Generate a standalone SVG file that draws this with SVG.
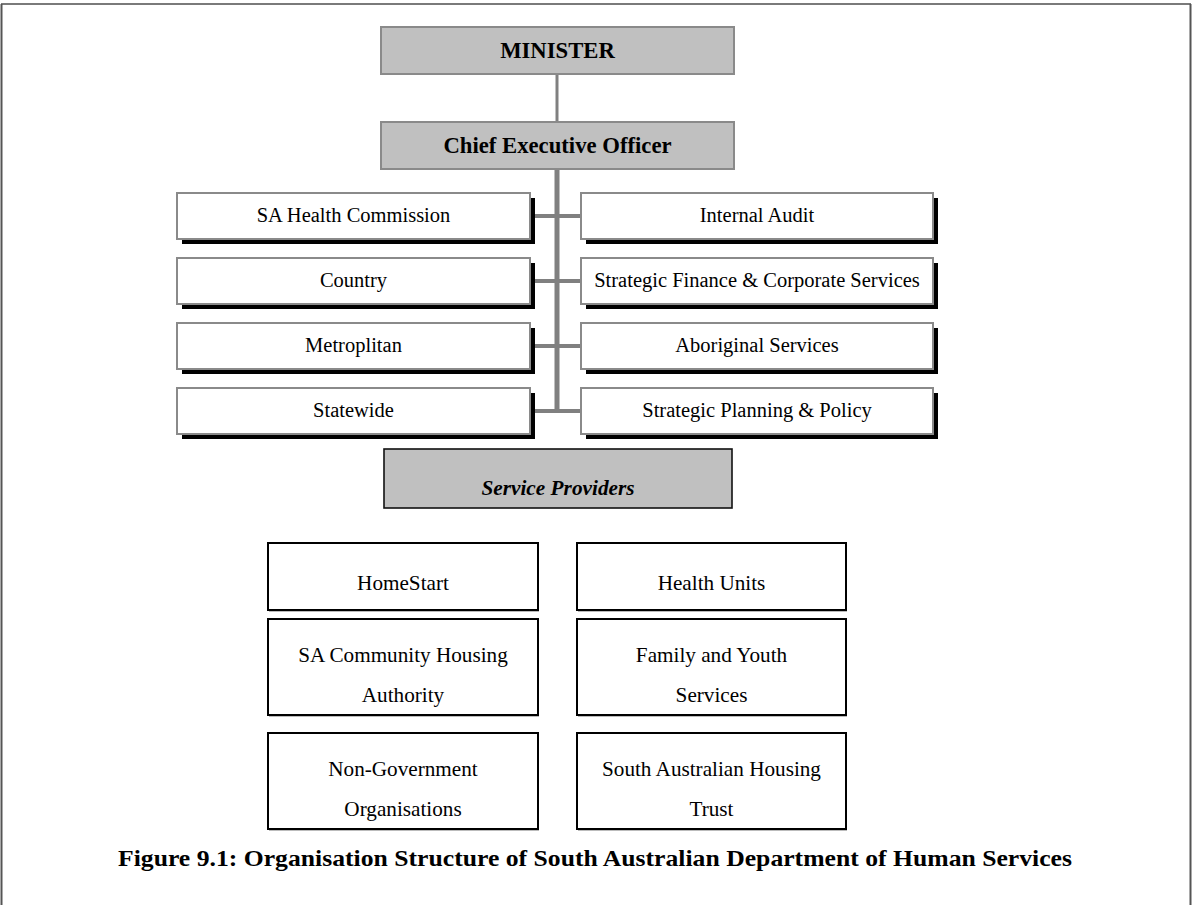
<svg xmlns="http://www.w3.org/2000/svg" width="1192" height="905" viewBox="0 0 1192 905">
<style>
.t{font-family:"Liberation Serif","Times New Roman",serif;fill:#000;text-anchor:middle}
.up{font-size:20.5px}
.lo{font-size:21.2px}
.hd{font-size:22.7px;font-weight:bold}
.gray{fill:#c0c0c0;stroke:#8a8a8a;stroke-width:2}
.box{fill:#fff;stroke:#8a8a8a;stroke-width:2}
.sh{fill:#000}
.pbox{fill:#fff;stroke:#000;stroke-width:2}
.psh{fill:#bbb}
.conn{stroke:#808080;fill:none}
</style>
<rect x="0" y="0" width="1192" height="905" fill="#fff"/>
<g id="frame">
<line x1="1" y1="4" x2="1191" y2="4" stroke="#7a7a7a" stroke-width="2"/>
<line x1="1.5" y1="4" x2="1.5" y2="905" stroke="#555" stroke-width="2"/>
<line x1="1190.5" y1="4" x2="1190.5" y2="905" stroke="#555" stroke-width="2"/>
</g>
<g id="connectors">
<line class="conn" x1="557" y1="74" x2="557" y2="122" stroke-width="3"/>
<line class="conn" x1="557" y1="169" x2="557" y2="413" stroke-width="5"/>
<line class="conn" x1="530" y1="216" x2="581" y2="216" stroke-width="4"/>
<line class="conn" x1="530" y1="281" x2="581" y2="281" stroke-width="4"/>
<line class="conn" x1="530" y1="346" x2="581" y2="346" stroke-width="4"/>
<line class="conn" x1="530" y1="411" x2="581" y2="411" stroke-width="4"/>
</g>
<g id="minister">
<rect class="gray" x="381" y="27" width="353" height="47"/>
<text class="t hd" x="557.5" y="58">MINISTER</text>
</g>
<g id="ceo">
<rect class="gray" x="381" y="122" width="353" height="47"/>
<text class="t hd" x="557.5" y="153">Chief Executive Officer</text>
</g>
<g id="sa-health-commission">
<rect class="sh" x="182" y="198" width="353" height="46"/>
<rect class="box" x="177" y="193" width="353" height="46"/>
<text class="t up" x="353.5" y="222">SA Health Commission</text>
</g>
<g id="country">
<rect class="sh" x="182" y="263" width="353" height="46"/>
<rect class="box" x="177" y="258" width="353" height="46"/>
<text class="t up" x="353.5" y="287">Country</text>
</g>
<g id="metropolitan">
<rect class="sh" x="182" y="328" width="353" height="46"/>
<rect class="box" x="177" y="323" width="353" height="46"/>
<text class="t up" x="353.5" y="352">Metroplitan</text>
</g>
<g id="statewide">
<rect class="sh" x="182" y="393" width="353" height="46"/>
<rect class="box" x="177" y="388" width="353" height="46"/>
<text class="t up" x="353.5" y="417">Statewide</text>
</g>
<g id="internal-audit">
<rect class="sh" x="586" y="198" width="352" height="46"/>
<rect class="box" x="581" y="193" width="352" height="46"/>
<text class="t up" x="757" y="222">Internal Audit</text>
</g>
<g id="strategic-finance">
<rect class="sh" x="586" y="263" width="352" height="46"/>
<rect class="box" x="581" y="258" width="352" height="46"/>
<text class="t up" x="757" y="287">Strategic Finance &amp; Corporate Services</text>
</g>
<g id="aboriginal-services">
<rect class="sh" x="586" y="328" width="352" height="46"/>
<rect class="box" x="581" y="323" width="352" height="46"/>
<text class="t up" x="757" y="352">Aboriginal Services</text>
</g>
<g id="strategic-planning">
<rect class="sh" x="586" y="393" width="352" height="46"/>
<rect class="box" x="581" y="388" width="352" height="46"/>
<text class="t up" x="757" y="417">Strategic Planning &amp; Policy</text>
</g>
<g id="service-providers">
<rect x="384" y="449" width="348" height="59" fill="#c0c0c0" stroke="#111" stroke-width="1.6"/>
<text class="t" x="558" y="495" font-size="21.3" font-weight="bold" font-style="italic">Service Providers</text>
</g>
<g id="homestart">
<rect class="psh" x="269" y="545" width="270" height="67"/>
<rect class="pbox" x="268" y="543" width="270" height="67"/>
<text class="t lo" x="403" y="590">HomeStart</text>
</g>
<g id="health-units">
<rect class="psh" x="578" y="545" width="269" height="67"/>
<rect class="pbox" x="577" y="543" width="269" height="67"/>
<text class="t lo" x="711.5" y="590">Health Units</text>
</g>
<g id="sa-community-housing">
<rect class="psh" x="269" y="621" width="270" height="96"/>
<rect class="pbox" x="268" y="619" width="270" height="96"/>
<text class="t lo" x="403" y="662">SA Community Housing</text>
<text class="t lo" x="403" y="702">Authority</text>
</g>
<g id="family-youth">
<rect class="psh" x="578" y="621" width="269" height="96"/>
<rect class="pbox" x="577" y="619" width="269" height="96"/>
<text class="t lo" x="711.5" y="662">Family and Youth</text>
<text class="t lo" x="711.5" y="702">Services</text>
</g>
<g id="ngo">
<rect class="psh" x="269" y="735" width="270" height="96"/>
<rect class="pbox" x="268" y="733" width="270" height="96"/>
<text class="t lo" x="403" y="776">Non-Government</text>
<text class="t lo" x="403" y="816">Organisations</text>
</g>
<g id="sa-housing-trust">
<rect class="psh" x="578" y="735" width="269" height="96"/>
<rect class="pbox" x="577" y="733" width="269" height="96"/>
<text class="t lo" x="711.5" y="776">South Australian Housing</text>
<text class="t lo" x="711.5" y="816">Trust</text>
</g>
<g id="caption">
<text x="118" y="866" font-family="'Liberation Serif','Times New Roman',serif" font-size="24" font-weight="bold" textLength="954" lengthAdjust="spacingAndGlyphs">Figure 9.1: Organisation Structure of South Australian Department of Human Services</text>
</g>
</svg>
